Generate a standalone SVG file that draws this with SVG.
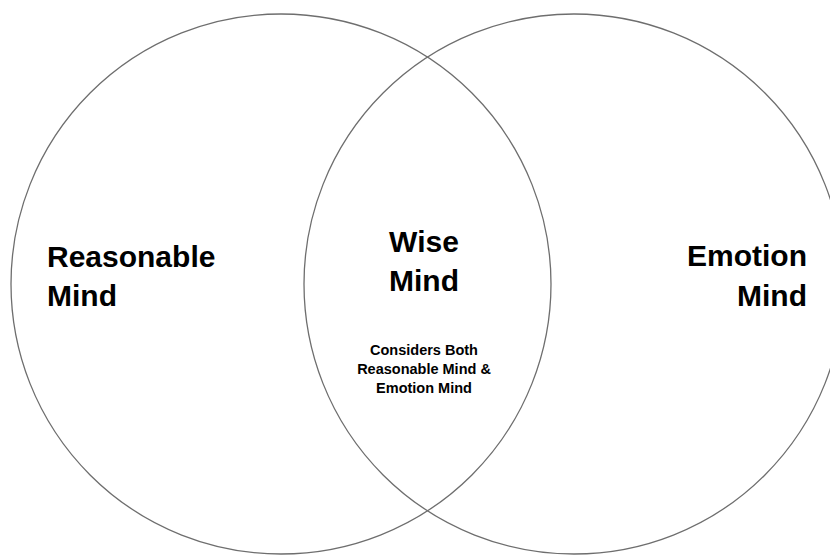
<svg xmlns="http://www.w3.org/2000/svg" width="830" height="555" viewBox="0 0 830 555">
  <style>
    .ring { fill: none; stroke: #6e6e6e; stroke-width: 1.3; }
    .title { font-family: "Liberation Sans", Arial, sans-serif; font-weight: 700; font-size: 30px; fill: #000; }
    .note { font-family: "Liberation Sans", Arial, sans-serif; font-weight: 700; font-size: 14.5px; fill: #000; text-anchor: middle; }
  </style>
  <rect width="830" height="555" fill="#ffffff"/>

  <!-- left set -->
  <g id="reasonable-mind">
    <circle class="ring" cx="281" cy="284" r="270"/>
    <text class="title" x="47" y="267">Reasonable</text>
    <text class="title" x="47" y="306">Mind</text>
  </g>

  <!-- right set -->
  <g id="emotion-mind">
    <circle class="ring" cx="574" cy="284" r="270"/>
    <text class="title" x="807" y="266" text-anchor="end">Emotion</text>
    <text class="title" x="807" y="306" text-anchor="end">Mind</text>
  </g>

  <!-- overlap -->
  <g id="wise-mind">
    <text class="title" x="424" y="252" text-anchor="middle">Wise</text>
    <text class="title" x="424" y="291" text-anchor="middle">Mind</text>
    <text class="note" x="424" y="355">Considers Both</text>
    <text class="note" x="424" y="374">Reasonable Mind &amp;</text>
    <text class="note" x="424" y="393">Emotion Mind</text>
  </g>

  <g id="connectors"/>
</svg>
